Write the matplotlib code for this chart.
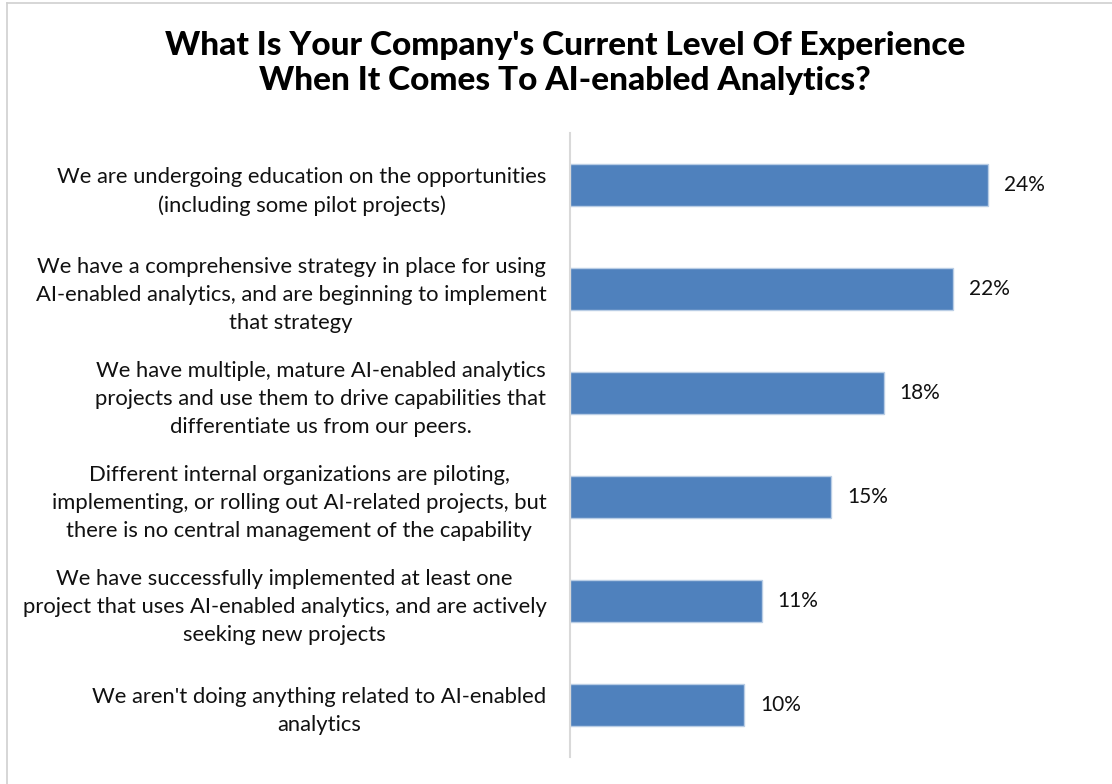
import matplotlib
matplotlib.use("Agg")
import matplotlib.pyplot as plt
from matplotlib.lines import Line2D

categories = [
    "We are undergoing education on the opportunities\n(including some pilot projects)",
    "We have a comprehensive strategy in place for using\nAI-enabled analytics, and are beginning to implement\nthat strategy",
    "We have multiple, mature AI-enabled analytics\nprojects and use them to drive capabilities that\ndifferentiate us from our peers.",
    "Different internal organizations are piloting,\nimplementing, or rolling out AI-related projects, but\nthere is no central management of the capability",
    "We have successfully implemented at least one\nproject that uses AI-enabled analytics, and are actively\nseeking new projects",
    "We aren't doing anything related to AI-enabled\nanalytics",
]
values = [24, 22, 18, 15, 11, 10]
value_labels = ["24%", "22%", "18%", "15%", "11%", "10%"]
title = "What Is Your Company's Current Level Of Experience\nWhen It Comes To AI-enabled Analytics?"

W, H = 1112, 784
fig = plt.figure(figsize=(W / 100, H / 100), dpi=100)
fig.patch.set_facecolor("white")

# frame lines (light gray border)
fig.add_artist(Line2D([7 / W, 1], [1 - 3 / H, 1 - 3 / H], color="#d0d0d0", lw=1.2, transform=fig.transFigure))
fig.add_artist(Line2D([7 / W, 7 / W], [0, 1 - 3 / H], color="#d0d0d0", lw=1.2, transform=fig.transFigure))

x0, x1 = 570, 1100
y_top, y_bot = 133, 757
ax = fig.add_axes([x0 / W, 1 - y_bot / H, (x1 - x0) / W, (y_bot - y_top) / H])
px_per_unit = (988 - 570) / 24
ax.set_xlim(0, (x1 - x0) / px_per_unit)
ax.set_ylim(len(values) - 0.5, -0.5)

ypos = list(range(len(values)))
ax.barh(ypos, values, height=0.4, color="#4F81BD", edgecolor="#B9CDE5", linewidth=1.0)

for y, v, lab in zip(ypos, values, value_labels):
    ax.text(v + 0.9, y, lab, va="center", ha="left", fontsize=15, family="Lato", color="#111111")

ax.set_yticks(ypos)
ax.set_yticklabels(categories, fontsize=15.8, family="Lato", multialignment="center",
                   color="#111111", linespacing=1.52)
ax.tick_params(axis="y", length=0, pad=17)
ax.set_xticks([])
for s in ["top", "right", "bottom"]:
    ax.spines[s].set_visible(False)
ax.spines["left"].set_color("#d9d9d9")
ax.spines["left"].set_linewidth(1.5)

fig.text(565 / W, 1 - 63 / H, title, ha="center", va="center", fontsize=24, fontweight="black",
         family="Lato", linespacing=1.25, color="black")

fig.savefig("out.png", dpi=100)
